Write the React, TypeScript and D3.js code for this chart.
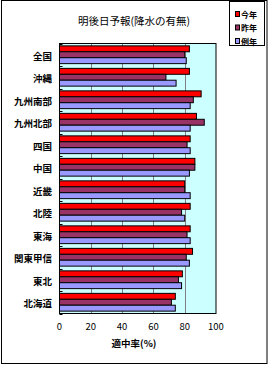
import React, { useEffect, useRef } from 'react';
import * as d3 from 'd3';

// 地域 (top to bottom)
const regions = ['全国', '沖縄', '九州南部', '九州北部', '四国', '中国', '近畿', '北陸', '東海', '関東甲信', '東北', '北海道'];
const seriesNames = ['今年', '昨年', '例年'];
const thisYear = [83, 83, 90.5, 87.5, 83.5, 86.5, 80, 83.5, 83.5, 85, 78.5, 74];
const lastYear = [80, 68, 85.5, 92.5, 81.5, 86.5, 80, 78, 81.5, 81, 76, 71.5];
const normalYear = [81, 74.5, 83.5, 83.5, 83.5, 83, 83.5, 80, 83.5, 83, 78, 74];
const xTicks = [0, 20, 40, 60, 80, 100];
const colors = ['#FF0000', '#993366', '#9999FF'];

const W = 269;
const H = 366;
const FONT = '"Noto Sans CJK JP", sans-serif';

export default function App() {
  const ref = useRef<SVGSVGElement>(null);

  useEffect(() => {
    const svg = d3.select(ref.current);
    svg.selectAll('*').remove();

    const left = 59.5, right = 216, top = 43.5, bottom = 313.5;
    const series = [thisYear, lastYear, normalYear];

    // outer frame
    svg.append('rect')
      .attr('x', 1.5).attr('y', 0.5)
      .attr('width', 265.5).attr('height', 363)
      .attr('fill', '#fff').attr('stroke', '#000');

    const x = d3.scaleLinear().domain([0, 100]).range([left, right]);
    const y = d3.scaleBand().domain(regions).range([top, bottom]);
    const inner = d3.scaleBand().domain(seriesNames)
      .range([0, y.bandwidth()]).paddingOuter(0.4);

    // plot background
    svg.append('rect')
      .attr('x', left).attr('y', top)
      .attr('width', right - left).attr('height', bottom - top)
      .attr('fill', '#CCFFFF');

    svg.append('g').selectAll('line')
      .data(xTicks.slice(1, -1))
      .join('line')
      .attr('x1', d => Math.round(x(d)) + 0.5).attr('x2', d => Math.round(x(d)) + 0.5)
      .attr('y1', top).attr('y2', bottom)
      .attr('stroke', '#808080');

    svg.append('rect')
      .attr('x', left).attr('y', top)
      .attr('width', right - left).attr('height', bottom - top)
      .attr('fill', 'none').attr('stroke', '#000');

    // bars
    const groups = svg.append('g').selectAll('g')
      .data(regions)
      .join('g')
      .attr('transform', d => `translate(0,${y(d)})`);

    groups.selectAll('rect')
      .data((d, i) => series.map((s, k) => ({ name: seriesNames[k], value: s[i], k })))
      .join('rect')
      .attr('x', x(0))
      .attr('y', d => inner(d.name)!)
      .attr('width', d => x(d.value) - x(0))
      .attr('height', inner.bandwidth())
      .attr('fill', d => colors[d.k])
      .attr('stroke', '#000')
      .attr('stroke-width', 1);

    // category ticks (inside)
    const bounds = regions.map(r => y(r)!).concat([bottom]);
    svg.append('g').selectAll('line')
      .data(bounds)
      .join('line')
      .attr('x1', left).attr('x2', left + 3)
      .attr('y1', d => Math.round(d) + 0.5).attr('y2', d => Math.round(d) + 0.5)
      .attr('stroke', '#000');

    // category labels
    svg.append('g').selectAll('text')
      .data(regions)
      .join('text')
      .attr('x', 52)
      .attr('y', d => y(d)! + y.bandwidth() / 2 + 5)
      .attr('text-anchor', 'end')
      .attr('font-family', FONT)
      .attr('font-size', 9.5)
      .attr('font-weight', 'bold')
      .text(d => d);

    // x tick labels
    svg.append('g').selectAll('text')
      .data(xTicks)
      .join('text')
      .attr('x', d => x(d))
      .attr('y', 330)
      .attr('text-anchor', 'middle')
      .attr('font-family', FONT)
      .attr('font-size', 9.5)
      .text(d => d);

    svg.append('text')
      .attr('x', 134).attr('y', 346.5)
      .attr('text-anchor', 'middle')
      .attr('font-family', FONT)
      .attr('font-size', 9.5)
      .attr('font-weight', 'bold')
      .text('適中率(%)');

    // title
    svg.append('text')
      .attr('x', 134).attr('y', 25)
      .attr('text-anchor', 'middle')
      .attr('font-family', FONT)
      .attr('font-size', 10.5)
      .text('明後日予報(降水の有無)');

    // legend
    const lg = svg.append('g');
    lg.append('rect')
      .attr('x', 229.5).attr('y', 1.5)
      .attr('width', 35).attr('height', 44)
      .attr('fill', '#fff').attr('stroke', '#000');
    const items = lg.selectAll('g')
      .data(seriesNames)
      .join('g')
      .attr('transform', (d, i) => `translate(235,${14 + i * 13.5})`);
    items.append('rect')
      .attr('x', 0.5).attr('y', -2.5)
      .attr('width', 4).attr('height', 5)
      .attr('fill', (d, i) => colors[i])
      .attr('stroke', '#000');
    items.append('text')
      .attr('x', 6).attr('y', 3.5)
      .attr('font-family', FONT)
      .attr('font-size', 8)
      .attr('font-weight', 'bold')
      .text(d => d);
  }, []);

  return <svg ref={ref} width={W} height={H} style={{ display: 'block', position: 'absolute', left: 0, top: 0 }} />;
}
